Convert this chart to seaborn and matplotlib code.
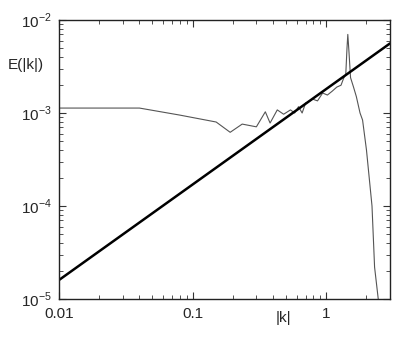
import numpy as np
import pandas as pd
import matplotlib
matplotlib.use("Agg")
import matplotlib.pyplot as plt
import seaborn as sns
from matplotlib.ticker import LogLocator, FixedLocator, FixedFormatter

# Spectrum curve E(|k|)
k_spec = [0.01, 0.04, 0.08, 0.15, 0.191, 0.235, 0.30, 0.35, 0.38, 0.43, 0.48, 0.54,
          0.58, 0.62, 0.66, 0.70, 0.73, 0.79, 0.86, 0.94, 1.02, 1.11, 1.20, 1.29,
          1.35, 1.40, 1.43, 1.45, 1.48, 1.52, 1.60, 1.68, 1.79, 1.87, 2.0, 2.2,
          2.3, 2.45, 2.55]
E_spec = [1.13e-3, 1.13e-3, 9.5e-4, 8.0e-4, 6.2e-4, 7.6e-4, 7.1e-4, 1.03e-3, 7.8e-4,
          1.08e-3, 9.7e-4, 1.08e-3, 1.0e-3, 1.17e-3, 1.0e-3, 1.28e-3, 1.31e-3, 1.41e-3,
          1.35e-3, 1.64e-3, 1.56e-3, 1.72e-3, 1.9e-3, 1.99e-3, 2.37e-3, 2.6e-3, 5.0e-3,
          7.0e-3, 4.5e-3, 2.4e-3, 1.9e-3, 1.5e-3, 1.0e-3, 8.4e-4, 4.0e-4, 1.0e-4,
          2.2e-5, 1.0e-5, 5.0e-6]

# Reference power-law line
k_line = [0.01, 3.0]
E_line = [1.6e-5, 5.6e-3]

sns.set_style("ticks")
plt.rcParams['font.family'] = ['Liberation Sans', 'DejaVu Sans']
plt.rcParams['mathtext.fontset'] = 'custom'
plt.rcParams['mathtext.rm'] = 'Liberation Sans'

fig = plt.figure(figsize=(4.03, 3.47), dpi=100)
ax = fig.add_axes([59/403, 1-299/347, (390-59)/403, (299-20)/347])

df_spec = pd.DataFrame({"k": k_spec, "E": E_spec})
df_line = pd.DataFrame({"k": k_line, "E": E_line})
sns.lineplot(data=df_spec, x="k", y="E", ax=ax, color="#555555", linewidth=0.8,
             sort=False, estimator=None)
sns.lineplot(data=df_line, x="k", y="E", ax=ax, color="black", linewidth=1.8,
             sort=False, estimator=None)

ax.set_xscale("log")
ax.set_yscale("log")
ax.set_xlim(0.01, 3.0)
ax.set_ylim(1e-5, 1e-2)

ax.xaxis.set_major_locator(FixedLocator([0.01, 0.1, 1]))
ax.xaxis.set_major_formatter(FixedFormatter(["0.01", "0.1", "1"]))
ax.yaxis.set_major_locator(FixedLocator([1e-5, 1e-4, 1e-3, 1e-2]))
ax.yaxis.set_major_formatter(FixedFormatter([r"$10^{-5}$", r"$10^{-4}$", r"$10^{-3}$", r"$10^{-2}$"]))
ax.xaxis.set_minor_locator(LogLocator(base=10, subs=np.arange(2, 10)))
ax.yaxis.set_minor_locator(LogLocator(base=10, subs=np.arange(2, 10)))
ax.xaxis.set_minor_formatter(plt.NullFormatter())
ax.yaxis.set_minor_formatter(plt.NullFormatter())

ax.tick_params(which="both", direction="in", top=True, right=True, color="#333333")
ax.tick_params(which="major", length=5, width=0.8, labelsize=11)
ax.tick_params(axis="x", which="major", pad=6)
ax.tick_params(axis="y", which="major", pad=5)
ax.tick_params(which="minor", length=3, width=0.6)
for s in ax.spines.values():
    s.set_linewidth(1.0)
    s.set_color("#222222")

ax.set_xlabel("")
ax.set_ylabel("")
ax.text(-0.10, 0.84, "E(|k|)", transform=ax.transAxes, ha="center", va="center", fontsize=11)
ax.text(0.677, -0.068, "|k|", transform=ax.transAxes, ha="center", va="center", fontsize=11)

fig.savefig("out.png", dpi=100)
